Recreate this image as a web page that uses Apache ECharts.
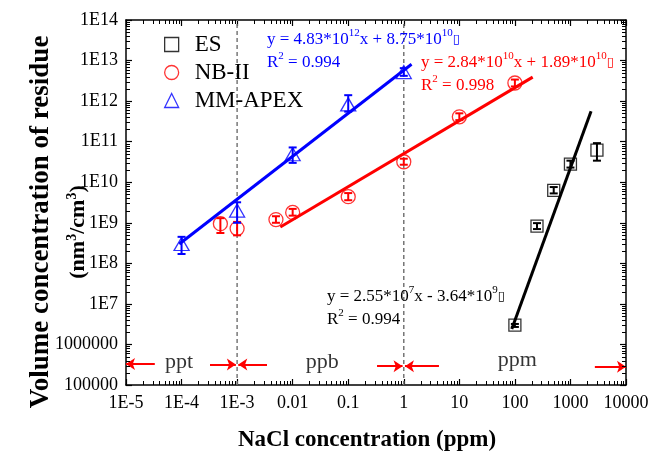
<!DOCTYPE html>
<html>
<head>
<meta charset="utf-8">
<script src="https://cdn.jsdelivr.net/npm/echarts@6/dist/echarts.min.js"></script>
<style>
  html, body { margin: 0; padding: 0; background: #fff; }
  #chart { width: 652px; height: 457px; }
</style>
</head>
<body>
<div id="chart"></div>
<script>
// NaCl concentration (ppm) of each measured solution and residue volume concentration (nm^3/cm^3)
const esConc   = [100, 250, 500, 1000, 3000];
const esVol    = [3.0e6, 8.3e8, 6.3e9, 2.8e10, 6.2e10];
const esLow    = [2.7e6, 7.0e8, 5.3e9, 2.3e10, 3.4e10];
const esHigh   = [3.2e6, 9.8e8, 7.6e9, 3.4e10, 9.2e10];

const nbConc   = [5e-4, 1e-3, 5e-3, 0.01, 0.1, 1, 10, 100];
const nbVol    = [9.5e8, 7.2e8, 1.2e9, 1.8e9, 4.4e9, 3.2e10, 4.1e11, 2.8e12];
const nbLow    = [5.6e8, 4.9e8, 1.0e9, 1.5e9, 3.6e9, 2.7e10, 3.4e11, 2.3e12];
const nbHigh   = [1.3e9, 1.05e9, 1.45e9, 2.2e9, 5.4e9, 3.8e10, 5.0e11, 3.4e12];

const mmConc   = [1e-4, 1e-3, 0.01, 0.1, 1];
const mmVol    = [3.0e8, 2.0e9, 4.9e10, 8.3e11, 5.2e12];
const mmLow    = [1.7e8, 1.0e9, 3.0e10, 5.5e11, 4.2e12];
const mmHigh   = [4.5e8, 3.2e9, 7.2e10, 1.4e12, 6.5e12];

// end points of the fitted lines
const esFit = [[88, 2.4e6], [2350, 5.6e11]];
const nbFit = [[6e-3, 7.9e8], [209, 3.9e12]];
const mmFit = [[9.1e-5, 3.0e8], [1.38, 8.1e12]];

// axis extents and tick labels, one per decade
const xRange = [1e-5, 1e4];
const yRange = [1e5, 1e14];
const xTickLabels = ['1E-5', '1E-4', '1E-3', '0.01', '0.1', '1', '10', '100', '1000', '10000'];
const yTickLabels = ['100000', '1000000', '1E7', '1E8', '1E9', '1E10', '1E11', '1E12', '1E13', '1E14'];

// concentration ranges: dividers, range names and their arrows
const rangeDividers = [1e-3, 1];
const rangeNames  = ['ppt', 'ppb', 'ppm'];
const rangeNameX  = [9e-5, 0.034, 110];
const rangeNameY  = [3.7e5, 3.7e5, 4.1e5];
const arrowTailX  = [3.3e-5, 3.25e-4, 3.45e-3, 0.33, 4.3, 2750];
const arrowHeadX  = [1e-5, 9.5e-4, 1.05e-3, 0.95, 1.05, 1e4];
const arrowY      = [3.3e5, 3.2e5, 3.2e5, 2.9e5, 2.9e5, 2.8e5];

const SERIF = '"Liberation Serif", "Times New Roman", serif';
const BLUE = '#0000ff', RED = '#ff0000', BLACK = '#000000';

const zip = (xs, ys) => xs.map((x, i) => [x, ys[i]]);
const zip3 = (xs, a, b) => xs.map((x, i) => [x, a[i], b[i]]);

// minor tick values (2..9 within each decade) of both log axes
function decadeMinors(range) {
  const vals = [];
  const lo = Math.round(Math.log10(range[0])), hi = Math.round(Math.log10(range[1]));
  for (let e = lo; e < hi; e++) {
    for (let k = 2; k <= 9; k++) vals.push(k * Math.pow(10, e));
  }
  return vals;
}
const xMinorTicks = decadeMinors(xRange);
const yMinorTicks = decadeMinors(yRange);
const MINOR_LEN = 4;

function errorBarRenderer(color) {
  return function (params, api) {
    const x = api.value(0);
    const lo = api.coord([x, api.value(1)]);
    const hi = api.coord([x, api.value(2)]);
    const hw = 4;
    const style = { stroke: color, lineWidth: 2 };
    return {
      type: 'group',
      children: [
        { type: 'line', shape: { x1: lo[0], y1: lo[1], x2: hi[0], y2: hi[1] }, style },
        { type: 'line', shape: { x1: lo[0] - hw, y1: lo[1], x2: lo[0] + hw, y2: lo[1] }, style },
        { type: 'line', shape: { x1: hi[0] - hw, y1: hi[1], x2: hi[0] + hw, y2: hi[1] }, style }
      ]
    };
  };
}

// one minor tick on the bottom and top axes for a given x value
function xMinorRenderer(params, api) {
  const b = api.coord([api.value(0), api.value(1)]);
  const t = api.coord([api.value(0), api.value(2)]);
  const px = Math.round(b[0]) + 0.5;
  const style = { stroke: '#000', lineWidth: 1 };
  return {
    type: 'group',
    children: [
      { type: 'line', shape: { x1: px, y1: b[1], x2: px, y2: b[1] - MINOR_LEN }, style },
      { type: 'line', shape: { x1: px, y1: t[1], x2: px, y2: t[1] + MINOR_LEN }, style }
    ]
  };
}

// one minor tick on the left and right axes for a given y value
function yMinorRenderer(params, api) {
  const l = api.coord([api.value(0), api.value(1)]);
  const r = api.coord([api.value(2), api.value(1)]);
  const py = Math.round(l[1]) + 0.5;
  const style = { stroke: '#000', lineWidth: 1 };
  return {
    type: 'group',
    children: [
      { type: 'line', shape: { x1: l[0], y1: py, x2: l[0] + MINOR_LEN, y2: py }, style },
      { type: 'line', shape: { x1: r[0], y1: py, x2: r[0] - MINOR_LEN, y2: py }, style }
    ]
  };
}

function eqRich(color) {
  return {
    t: { fontSize: 17, fontFamily: SERIF, fill: color, color: color, lineHeight: 24 },
    s: { fontSize: 11, fontFamily: SERIF, fill: color, color: color, lineHeight: 12, verticalAlign: 'top' },
    b: { fontSize: 13, fontFamily: 'DejaVu Sans', fill: color, color: color, lineHeight: 24 }
  };
}

function eqText(x, y, text, color) {
  return {
    type: 'text', x: x, y: y, z: 20,
    style: { text: text, rich: eqRich(color), align: 'left', verticalAlign: 'middle' }
  };
}

// axis titles and fit equations (built fresh each time they are handed to setOption)
function textGraphics() {
  return [
    {
      type: 'text', x: 41, y: 222, rotation: Math.PI / 2,
      style: { text: 'Volume concentration of residue', font: 'bold 27px ' + SERIF, fill: '#000', align: 'center', verticalAlign: 'middle' }
    },
    {
      type: 'text', x: 78, y: 232, rotation: Math.PI / 2,
      style: {
        text: '{b|(nm}{s|3}{b|/cm}{s|3}{b|)}', align: 'center', verticalAlign: 'middle',
        rich: {
          b: { fontSize: 22, fontWeight: 'bold', fontFamily: SERIF, fill: '#000', lineHeight: 26 },
          s: { fontSize: 14, fontWeight: 'bold', fontFamily: SERIF, fill: '#000', lineHeight: 14, verticalAlign: 'top' }
        }
      }
    },
    {
      type: 'text', x: 367, y: 440,
      style: { text: 'NaCl concentration (ppm)', font: 'bold 23px ' + SERIF, fill: '#000', align: 'center', verticalAlign: 'middle' }
    },
    eqText(267, 40, '{t|y = 4.83*10}{s|12}{t|x + 8.75*10}{s|10}{b|▯}', BLUE),
    eqText(267, 63, '{t|R}{s|2}{t| = 0.994}', BLUE),
    eqText(421, 63, '{t|y = 2.84*10}{s|10}{t|x + 1.89*10}{s|10}{b|▯}', RED),
    eqText(421, 86, '{t|R}{s|2}{t| = 0.998}', RED),
    eqText(327, 297, '{t|y = 2.55*10}{s|7}{t|x - 3.64*10}{s|9}{b|▯}', BLACK),
    eqText(327, 320, '{t|R}{s|2}{t| = 0.994}', BLACK)
  ];
}

const xLabel = v => xTickLabels[Math.round(Math.log10(v)) + 5];
const yLabel = v => yTickLabels[Math.round(Math.log10(v)) - 5];

const axisCommon = {
  type: 'log', logBase: 10, interval: 1,
  axisLine: { show: true, onZero: false, lineStyle: { color: '#000', width: 1.5 } },
  axisTick: { show: true, inside: true, length: 6, lineStyle: { color: '#000', width: 1.2 } },
  splitLine: { show: false },
  minorTick: { show: false },
  minorSplitLine: { show: false }
};

const option = {
  animation: false,
  backgroundColor: '#fff',
  grid: { left: 126, right: 26, top: 20, bottom: 72, containLabel: false, outerBoundsMode: 'none' },
  legend: {
    orient: 'vertical', left: 159, top: 28, itemGap: 5,
    itemWidth: 14, itemHeight: 14,
    textStyle: { fontSize: 23, fontFamily: SERIF, color: '#000', padding: [0, 0, 0, 11] },
    data: [
      { name: 'ES', icon: 'rect', itemStyle: { color: 'rgba(0,0,0,0)', borderColor: BLACK, borderWidth: 1.3 } },
      { name: 'NB-II', icon: 'circle', itemStyle: { color: 'rgba(0,0,0,0)', borderColor: RED, borderWidth: 1.3 } },
      { name: 'MM-APEX', icon: 'triangle', itemStyle: { color: 'rgba(0,0,0,0)', borderColor: BLUE, borderWidth: 1.3 } }
    ]
  },
  xAxis: [
    Object.assign({}, axisCommon, {
      min: xRange[0], max: xRange[1], position: 'bottom',
      axisLabel: { show: true, formatter: xLabel, fontSize: 18, fontFamily: SERIF, color: '#000', margin: 9 }
    }),
    Object.assign({}, axisCommon, {
      min: xRange[0], max: xRange[1], position: 'top',
      axisLabel: { show: false }
    })
  ],
  yAxis: [
    Object.assign({}, axisCommon, {
      min: yRange[0], max: yRange[1], position: 'left',
      axisLabel: { show: true, formatter: yLabel, fontSize: 18, fontFamily: SERIF, color: '#000', margin: 8 }
    }),
    Object.assign({}, axisCommon, {
      min: yRange[0], max: yRange[1], position: 'right',
      axisLabel: { show: false }
    })
  ],
  series: [
    {
      name: 'ES', type: 'scatter', symbol: 'rect', symbolSize: 12, z: 3,
      itemStyle: { color: 'rgba(0,0,0,0)', borderColor: BLACK, borderWidth: 1.3 },
      data: zip(esConc, esVol)
    },
    {
      name: 'NB-II', type: 'scatter', symbol: 'circle', symbolSize: 14, z: 3,
      itemStyle: { color: 'rgba(0,0,0,0)', borderColor: RED, borderWidth: 1.3 },
      data: zip(nbConc, nbVol)
    },
    {
      name: 'MM-APEX', type: 'scatter', symbol: 'triangle', symbolSize: [15, 13], z: 3,
      itemStyle: { color: 'rgba(0,0,0,0)', borderColor: BLUE, borderWidth: 1.3 },
      data: zip(mmConc, mmVol)
    },
    {
      name: 'ES error', type: 'custom', silent: true, z: 4,
      data: zip3(esConc, esLow, esHigh), encode: { x: 0, y: [1, 2] },
      renderItem: errorBarRenderer(BLACK)
    },
    {
      name: 'NB-II error', type: 'custom', silent: true, z: 4,
      data: zip3(nbConc, nbLow, nbHigh), encode: { x: 0, y: [1, 2] },
      renderItem: errorBarRenderer(RED)
    },
    {
      name: 'MM-APEX error', type: 'custom', silent: true, z: 4,
      data: zip3(mmConc, mmLow, mmHigh), encode: { x: 0, y: [1, 2] },
      renderItem: errorBarRenderer(BLUE)
    },
    {
      name: 'x minor ticks', type: 'custom', silent: true, z: 8,
      data: xMinorTicks.map(v => [v, yRange[0], yRange[1]]), encode: { x: 0, y: [1, 2] },
      renderItem: xMinorRenderer
    },
    {
      name: 'y minor ticks', type: 'custom', silent: true, z: 8,
      data: yMinorTicks.map(v => [xRange[0], v, xRange[1]]), encode: { x: [0, 2], y: 1 },
      renderItem: yMinorRenderer
    },
    // dashed dividers between ppt / ppb / ppm
    ...rangeDividers.map(v => ({
      name: 'divider', type: 'line', showSymbol: false, silent: true, z: 2,
      lineStyle: { color: '#777', type: [4, 3], width: 1.5 },
      data: [[v, yRange[0]], [v, yRange[1]]]
    })),
    {
      name: 'ES fit', type: 'line', showSymbol: false, silent: true, z: 5,
      lineStyle: { color: BLACK, width: 3 },
      data: esFit
    },
    {
      name: 'NB-II fit', type: 'line', showSymbol: false, silent: true, z: 5,
      lineStyle: { color: RED, width: 3 },
      data: nbFit,
      markLine: {
        silent: true, symbol: ['none', 'arrow'], symbolSize: 9, label: { show: false },
        lineStyle: { color: RED, type: 'solid', width: 2 },
        data: arrowTailX.map((x, i) => [{ coord: [x, arrowY[i]] }, { coord: [arrowHeadX[i], arrowY[i]] }])
      }
    },
    {
      name: 'MM-APEX fit', type: 'line', showSymbol: false, silent: true, z: 5,
      lineStyle: { color: BLUE, width: 3 },
      data: mmFit
    },
    {
      name: 'ranges', type: 'scatter', symbolSize: 1, silent: true, z: 6,
      itemStyle: { color: 'rgba(0,0,0,0)' },
      label: { show: true, position: 'inside', formatter: '{b}', fontSize: 22, fontFamily: SERIF, color: '#000' },
      data: rangeNames.map((n, i) => ({ name: n, value: [rangeNameX[i], rangeNameY[i]] }))
    }
  ]
};

const chart = echarts.init(document.getElementById('chart'), null, { renderer: 'canvas' });
chart.setOption(option);

// the same minor ticks as overlay graphics, placed through the axis scales
function minorTickGraphics() {
  const finder = { xAxisIndex: 0, yAxisIndex: 0 };
  const bl = chart.convertToPixel(finder, [xRange[0], yRange[0]]);
  const tr = chart.convertToPixel(finder, [xRange[1], yRange[1]]);
  const out = [];
  const addLine = (x1, y1, x2, y2) =>
    out.push({ type: 'line', silent: true, z: 10, shape: { x1, y1, x2, y2 }, style: { stroke: '#000', lineWidth: 1 } });
  xMinorTicks.forEach(v => {
    const px = Math.round(chart.convertToPixel(finder, [v, yRange[0]])[0]) + 0.5;
    addLine(px, bl[1], px, bl[1] - MINOR_LEN);
    addLine(px, tr[1], px, tr[1] + MINOR_LEN);
  });
  yMinorTicks.forEach(v => {
    const py = Math.round(chart.convertToPixel(finder, [xRange[0], v])[1]) + 0.5;
    addLine(bl[0], py, bl[0] + MINOR_LEN, py);
    addLine(tr[0], py, tr[0] - MINOR_LEN, py);
  });
  return out.filter(el => [el.shape.x1, el.shape.y1, el.shape.x2, el.shape.y2].every(isFinite));
}

let ticks = [];
try { ticks = minorTickGraphics(); } catch (e) { ticks = []; }
chart.setOption({ graphic: textGraphics().concat(ticks) });
</script>
</body>
</html>
